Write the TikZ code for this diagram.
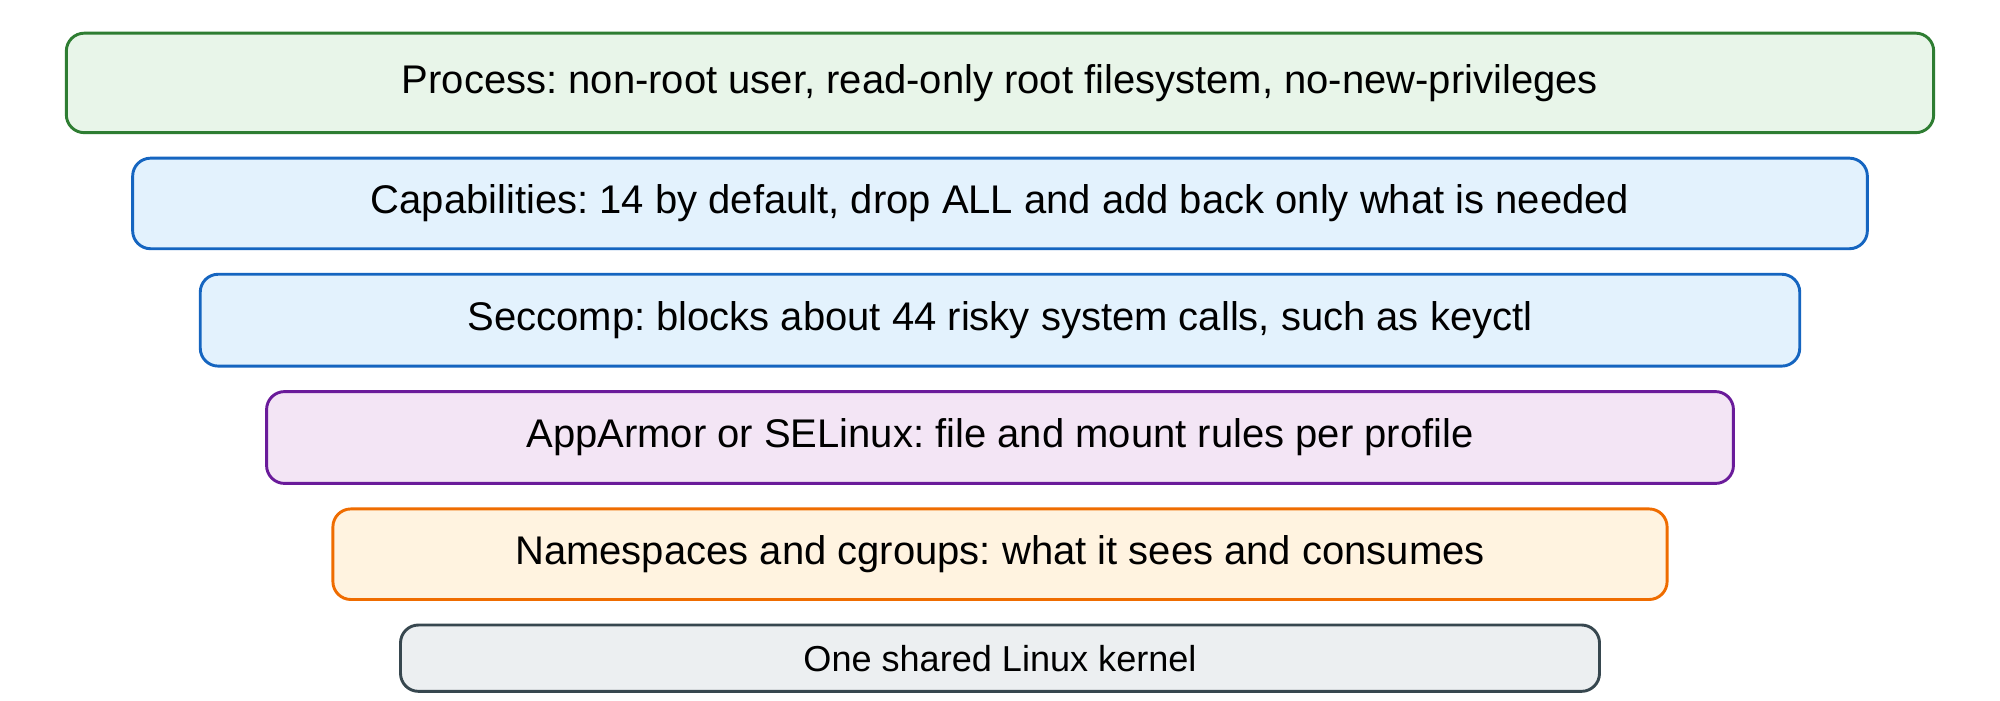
\documentclass[tikz,border=0pt]{standalone}
\usepackage{fontspec}
\setmainfont{Liberation Sans}
\frenchspacing
\definecolor{gB}{HTML}{2E7D32}\definecolor{gF}{HTML}{E8F5E9}
\definecolor{bB}{HTML}{1565C0}\definecolor{bF}{HTML}{E3F2FD}
\definecolor{pB}{HTML}{6A1B9A}\definecolor{pF}{HTML}{F3E5F5}
\definecolor{oB}{HTML}{EF6C00}\definecolor{oF}{HTML}{FFF3E0}
\definecolor{kB}{HTML}{37474F}\definecolor{kF}{HTML}{ECEFF1}
\begin{document}
\begin{tikzpicture}[x=0.02cm,y=-0.02cm,
  layer/.style={draw, line width=1.3pt, rounded corners=8pt, font=\fontsize{17.85}{20}\selectfont}]
\useasboundingbox[fill=white] (0,0) rectangle (1568,549);
\draw[layer,draw=gB,fill=gF] (52,26) rectangle (1516,104) node[midway] (l1) {Process: non-root user, read-only root filesystem, no-new-privileges};
\draw[layer,draw=bB,fill=bF] (104,124) rectangle (1464,195) node[midway] (l2) {Capabilities: 14 by default, drop ALL and add back only what is needed};
\draw[layer,draw=bB,fill=bF] (157,215) rectangle (1411,287) node[midway] (l3) {Seccomp: blocks about 44 risky system calls, such as keyctl};
\draw[layer,draw=pB,fill=pF] (209,307) rectangle (1359,379) node[midway] (l4) {AppArmor or SELinux: file and mount rules per profile};
\draw[layer,draw=oB,fill=oF] (261,399) rectangle (1307,470) node[midway] (l5) {Namespaces and cgroups: what it sees and consumes};
\draw[layer,draw=kB,fill=kF,font=\fontsize{16.1}{18}\selectfont] (314,490) rectangle (1254,542) node[midway] (l6) {One shared Linux kernel};
\end{tikzpicture}
\end{document}
